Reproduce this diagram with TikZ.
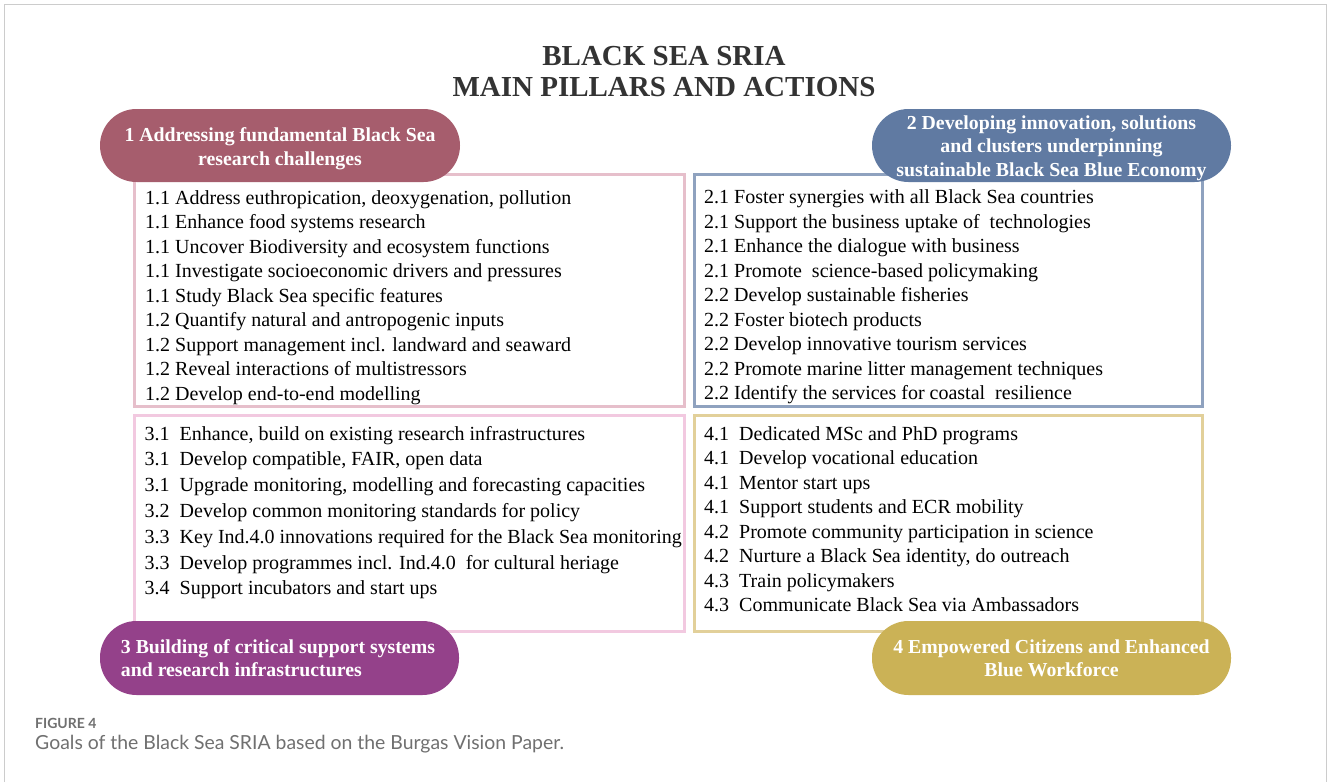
\documentclass[tikz,border=0pt]{standalone}
\usepackage{fontspec}
\setmainfont{Liberation Serif}
\newfontfamily\capfont{Lato}
\definecolor{pillA}{HTML}{A65D6D}
\definecolor{pillB}{HTML}{607AA2}
\definecolor{pillC}{HTML}{94418A}
\definecolor{pillD}{HTML}{CBB256}
\definecolor{frameA}{HTML}{E6BFCB}
\definecolor{frameB}{HTML}{8FA2BF}
\definecolor{frameC}{HTML}{F2C9E0}
\definecolor{frameD}{HTML}{E2D09A}
\definecolor{titlegray}{HTML}{333333}
\definecolor{capgray}{HTML}{707070}
\definecolor{edgegray}{HTML}{CCCCCC}
\begin{document}
\begin{tikzpicture}[x=1pt,y=-1pt,
  boxframe/.style={draw=#1, line width=3pt, fill=white, inner sep=0pt, outer sep=0pt},
  pill/.style={fill=#1, draw=none, rounded corners=36.5pt, inner sep=0pt, outer sep=0pt},
  item/.style={anchor=base west, inner sep=0pt, text=black, font=\fontsize{20}{24}\selectfont},
  pilltext/.style={inner sep=0pt, text=white, font=\bfseries\fontsize{19.8}{23}\selectfont},
  titletext/.style={anchor=base, inner sep=0pt, text=titlegray, font=\bfseries\fontsize{29}{32}\selectfont},
  ]
\fill[white] (0,0) rectangle (1328,782);
\useasboundingbox (0,0) rectangle (1328,782);
\draw[edgegray, line width=1pt] (4.5,782) -- (4.5,4.5) -- (1326.5,4.5) -- (1326.5,782);

% title
\node[titletext] (title1) at (664,65) {BLACK SEA SRIA};
\node[titletext] (title2) at (664,96.7) {MAIN PILLARS AND ACTIONS};

% frames
\node[boxframe=frameA, minimum width=550pt, minimum height=232pt] (box1) at (409.5,290.5) {};
\node[boxframe=frameB, minimum width=508pt, minimum height=232pt] (box2) at (948.5,290.5) {};
\node[boxframe=frameC, minimum width=550pt, minimum height=216pt] (box3) at (409.5,523.5) {};
\node[boxframe=frameD, minimum width=508pt, minimum height=216pt] (box4) at (948.5,523.5) {};

% items
\foreach \t [count=\i from 0] in {
  {1.1 Address euthropication, deoxygenation, pollution},
  {1.1 Enhance food systems research},
  {1.1 Uncover Biodiversity and ecosystem functions},
  {1.1 Investigate socioeconomic drivers and pressures},
  {1.1 Study Black Sea specific features},
  {1.2 Quantify natural and antropogenic inputs},
  {1.2 Support management incl. landward and seaward},
  {1.2 Reveal interactions of multistressors},
  {1.2 Develop end-to-end modelling}}
  \node[item] (ia-\i) at (145,{204+24.5*\i}) {\t};

\foreach \t [count=\i from 0] in {
  {2.1 Foster synergies with all Black Sea countries},
  {2.1 Support the business uptake of~ technologies},
  {2.1 Enhance the dialogue with business},
  {2.1 Promote~ science-based policymaking},
  {2.2 Develop sustainable fisheries},
  {2.2 Foster biotech products},
  {2.2 Develop innovative tourism services},
  {2.2 Promote marine litter management techniques},
  {2.2 Identify the services for coastal~ resilience}}
  \node[item] (ib-\i) at (704,{203.5+24.5*\i}) {\t};

\foreach \t [count=\i from 0] in {
  {3.1~ Enhance, build on existing research infrastructures},
  {3.1~ Develop compatible, FAIR, open data},
  {3.1~ Upgrade monitoring, modelling and forecasting capacities},
  {3.2~ Develop common monitoring standards for policy},
  {3.3~ Key Ind.4.0 innovations required for the Black Sea monitoring},
  {3.3~ Develop programmes incl. Ind.4.0~ for cultural heriage},
  {3.4~ Support incubators and start ups}}
  \node[item] (ic-\i) at (144.5,{440+25.8*\i}) {\t};

\foreach \t [count=\i from 0] in {
  {4.1~ Dedicated MSc and PhD programs},
  {4.1~ Develop vocational education},
  {4.1~ Mentor start ups},
  {4.1~ Support students and ECR mobility},
  {4.2~ Promote community participation in science},
  {4.2~ Nurture a Black Sea identity, do outreach},
  {4.3~ Train policymakers},
  {4.3~ Communicate Black Sea via Ambassadors}}
  \node[item] (id-\i) at (704,{440+24.5*\i}) {\t};

% pills
\node[pill=pillA, minimum width=360pt, minimum height=73pt] (pill1) at (280,145.5) {};
\node[pill=pillB, minimum width=359pt, minimum height=73pt] (pill2) at (1051.5,145.5) {};
\node[pill=pillC, minimum width=359pt, minimum height=74pt] (pill3) at (279.5,658) {};
\node[pill=pillD, minimum width=359pt, minimum height=74pt] (pill4) at (1051.5,658) {};

\node[pilltext, anchor=base] (p1a) at (280,141.7) {1 Addressing fundamental Black Sea};
\node[pilltext, anchor=base] (p1b) at (280,165) {research challenges};

\node[pilltext, anchor=base] (p2a) at (1051.5,129.5) {2 Developing innovation, solutions};
\node[pilltext, anchor=base] (p2b) at (1051.5,152.8) {and clusters underpinning};
\node[pilltext, anchor=base] (p2c) at (1051.5,176.1) {sustainable Black Sea Blue Economy};

\node[pilltext, anchor=base west] (p3a) at (120.7,653.3) {3 Building of critical support systems};
\node[pilltext, anchor=base west] (p3b) at (120.7,676.3) {and research infrastructures};

\node[pilltext, anchor=base] (p4a) at (1051.5,653.3) {4 Empowered Citizens and Enhanced};
\node[pilltext, anchor=base] (p4b) at (1051.5,676.5) {Blue Workforce};

% caption
\node[anchor=base west, inner sep=0pt, text=capgray, font=\capfont\bfseries\fontsize{14}{16}\selectfont] (figlabel) at (35,728.3) {FIGURE 4};
\node[anchor=base west, inner sep=0pt, text=capgray, font=\capfont\fontsize{19.4}{22}\selectfont] (caption) at (35,749) {Goals of the Black Sea SRIA based on the Burgas Vision Paper.};
\end{tikzpicture}
\end{document}
